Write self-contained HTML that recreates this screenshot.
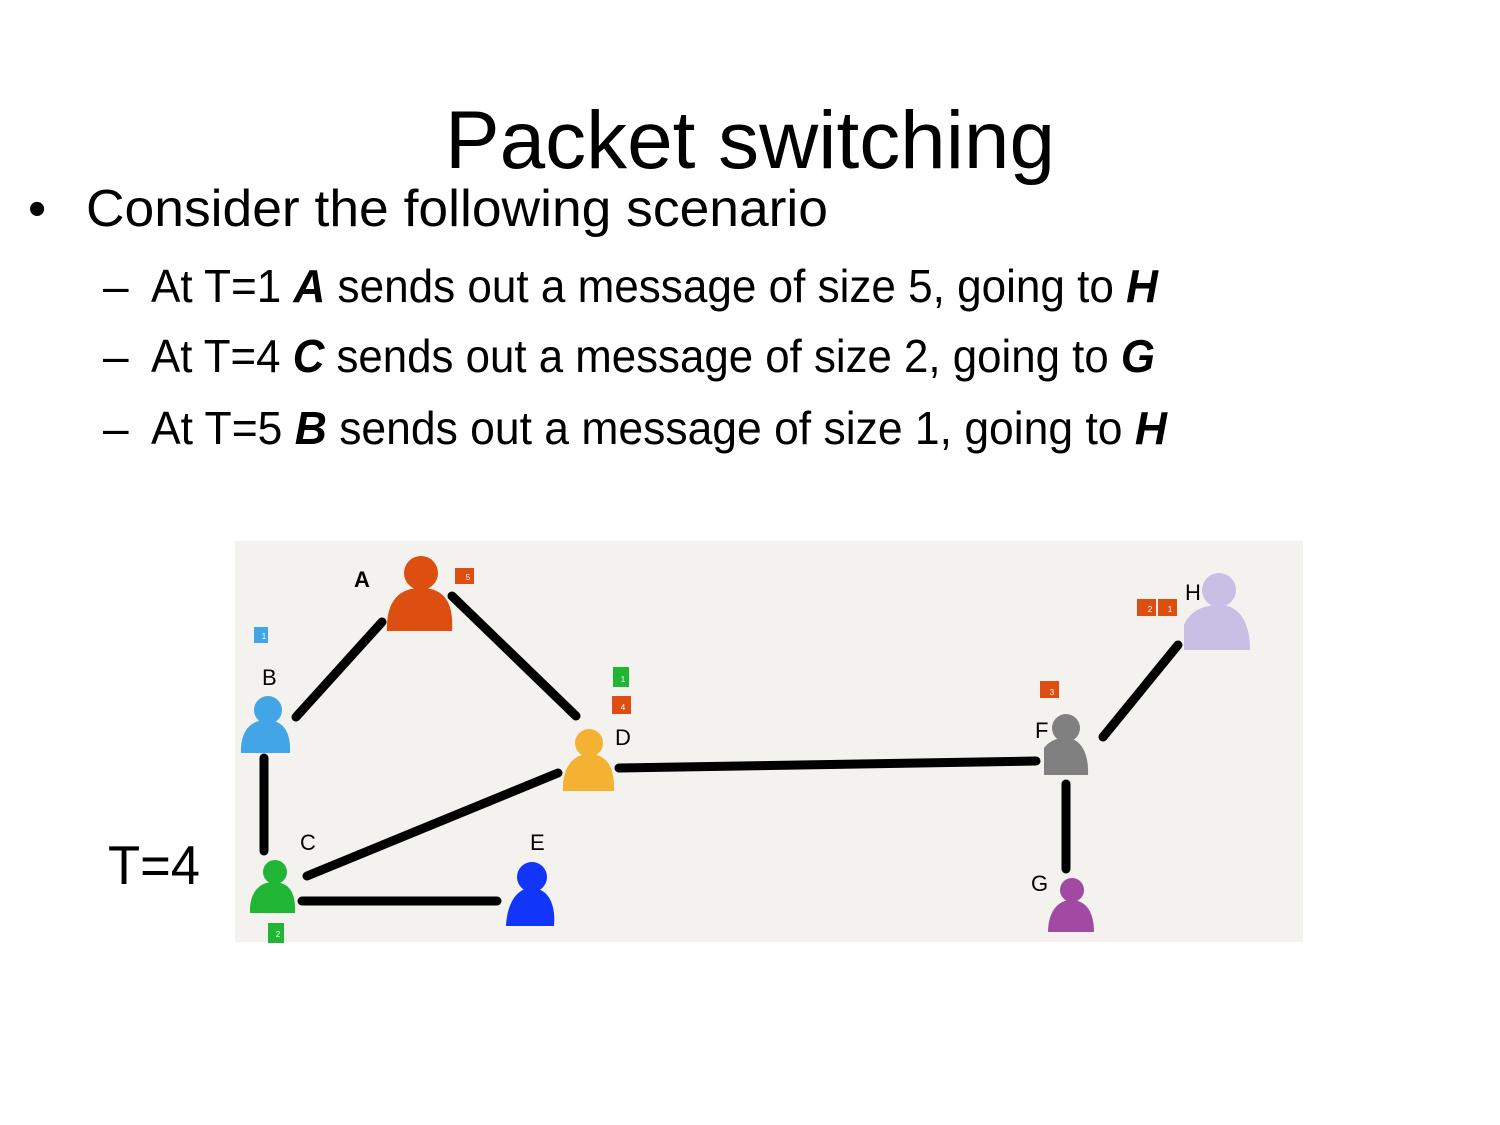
<!DOCTYPE html>
<html><head><meta charset="utf-8"><style>html,body{margin:0;padding:0;background:#fff}svg{display:block}</style></head>
<body>
<svg width="1500" height="1125" viewBox="0 0 1500 1125" xmlns="http://www.w3.org/2000/svg" font-family="Liberation Sans, sans-serif">
<rect width="1500" height="1125" fill="#fff"/>
<text x="445" y="168" font-size="82" textLength="610" lengthAdjust="spacingAndGlyphs">Packet switching</text>
<text x="28" y="226" font-size="52">•</text>
<text x="86" y="226" font-size="52" textLength="742" lengthAdjust="spacingAndGlyphs">Consider the following scenario</text>
<g font-size="46">
<text x="103" y="302">–</text>
<text x="151" y="302" textLength="1007" lengthAdjust="spacingAndGlyphs">At T=1 <tspan font-weight="bold" font-style="italic">A</tspan> sends out a message of size 5, going to <tspan font-weight="bold" font-style="italic">H</tspan></text>
<text x="103" y="372">–</text>
<text x="151" y="372" textLength="1004" lengthAdjust="spacingAndGlyphs">At T=4 <tspan font-weight="bold" font-style="italic">C</tspan> sends out a message of size 2, going to <tspan font-weight="bold" font-style="italic">G</tspan></text>
<text x="103" y="444">–</text>
<text x="151" y="444" textLength="1016" lengthAdjust="spacingAndGlyphs">At T=5  <tspan font-weight="bold" font-style="italic">B</tspan> sends out a message of size 1, going to <tspan font-weight="bold" font-style="italic">H</tspan></text>
</g>
<text x="108" y="884" font-size="55" textLength="92" lengthAdjust="spacingAndGlyphs">T=4</text>

<rect x="235" y="541" width="1068" height="401" fill="#f3f2ee"/>

<g stroke="#000" stroke-width="9" stroke-linecap="round" fill="none">
<line x1="296" y1="717" x2="382" y2="622"/>
<line x1="452" y1="596" x2="576" y2="716"/>
<line x1="264" y1="758" x2="264" y2="851"/>
<line x1="307" y1="876" x2="558" y2="773"/>
<line x1="302" y1="901" x2="497" y2="901"/>
<line x1="619" y1="768" x2="1036" y2="761"/>
<line x1="1066" y1="784" x2="1066" y2="869"/>
<line x1="1103" y1="737" x2="1178" y2="645"/>
</g>

<!-- persons -->
<g fill="#dc4f10"><circle cx="421" cy="573" r="17"/><path d="M387 631 C386 600 400 588 421 588 C442 588 454 600 452 631 Z"/></g>
<g fill="#42a5e6"><circle cx="268" cy="710" r="14"/><path d="M241 753 C240 730 252 720 266 720 C282 720 291 730 290 753 Z"/></g>
<g fill="#20b534"><circle cx="275" cy="872" r="12"/><path d="M250 913 C249 891 261 882 273 882 C288 882 296 891 295 913 Z"/></g>
<g fill="#f4b233"><circle cx="589" cy="743" r="14"/><path d="M563 791 C562 765 575 754 589 754 C605 754 615 765 614 791 Z"/></g>
<g fill="#1235fa"><circle cx="532" cy="877" r="15"/><path d="M506 926 C507 902 518 888 531 888 C547 888 556 902 554 926 Z"/></g>
<g fill="#808080"><circle cx="1066" cy="728" r="14"/><path d="M1044 775 L1044 748 C1050 740 1058 738 1066 738 C1080 738 1089 752 1088 775 Z"/></g>
<g fill="#a24aa3"><circle cx="1072" cy="890" r="12"/><path d="M1048 932 C1048 912 1058 900 1071 900 C1086 900 1094 912 1094 932 Z"/></g>
<g fill="#c7bfe4"><circle cx="1219" cy="590" r="17"/><path d="M1184 650 L1184 625 C1190 610 1205 605 1219 605 C1238 605 1250 620 1250 650 Z"/></g>

<!-- labels -->
<g font-size="22">
<text x="354" y="587" font-weight="bold">A</text>
<text x="262" y="685">B</text>
<text x="300" y="850">C</text>
<text x="615" y="745">D</text>
<text x="530" y="850">E</text>
<text x="1035" y="738">F</text>
<text x="1031" y="891">G</text>
<text x="1185" y="600">H</text>
</g>

<!-- packets -->
<g font-size="8" fill="#fff" text-anchor="middle">
<rect x="455" y="568" width="19" height="16" fill="#dc4f10"/><text x="468" y="580">5</text>
<rect x="254" y="627" width="14" height="16" fill="#42a5e6"/><text x="264" y="639">1</text>
<rect x="613" y="667" width="16" height="20" fill="#20b534"/><text x="623" y="682">1</text>
<rect x="612" y="696" width="19" height="18" fill="#dc4f10"/><text x="623" y="710">4</text>
<rect x="268" y="923" width="16" height="20" fill="#20b534"/><text x="278" y="937">2</text>
<rect x="1040" y="681" width="19" height="17" fill="#dc4f10"/><text x="1052" y="695">3</text>
<rect x="1137" y="599" width="19" height="17" fill="#dc4f10"/><text x="1150" y="612">2</text>
<rect x="1158" y="599" width="19" height="17" fill="#dc4f10"/><text x="1170" y="612">1</text>
</g>
</svg>
</body></html>
